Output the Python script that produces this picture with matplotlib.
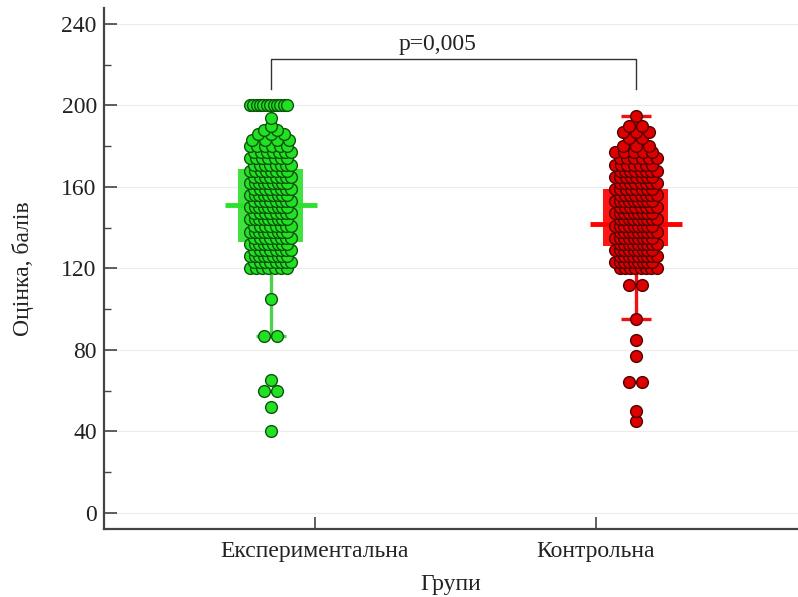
import numpy as np
import matplotlib.pyplot as plt
from matplotlib.ticker import MultipleLocator

# groups and where they sit on the x axis
groups = ["Експериментальна", "Контрольна"]
tick_pos = [1, 2]
group_pos = [0.843, 2.142]

# scores (value -> number of dots)
green_scores = [40, 52, 60, 65, 87, 105, 120, 123, 126, 129, 132, 135, 138, 141,
                144, 147, 150, 153, 156, 159, 162, 165, 168, 171, 174, 177, 180,
                183, 186, 188, 190, 194, 200]
green_counts = [1, 1, 2, 1, 2, 1, 7, 8, 9, 8, 9, 8, 9, 8,
                9, 8, 9, 8, 9, 8, 9, 8, 8, 8, 7, 7, 6,
                4, 3, 2, 1, 1, 12]

red_scores = [45, 50, 64, 77, 85, 95, 112, 120, 123, 126, 129, 132, 135, 138,
              141, 144, 147, 150, 153, 156, 159, 162, 165, 168, 171, 174, 177,
              180, 184, 187, 190, 195]
red_counts = [1, 1, 2, 1, 1, 1, 2, 8, 9, 9, 9, 9, 9, 9,
              9, 9, 9, 8, 9, 8, 8, 8, 8, 8, 7, 6, 5,
              3, 2, 3, 2, 1]

# box summary
box_q1 = [133, 131]
box_q3 = [169, 159]
box_mid = [151, 142]
whisk_lo = [87, 95]
whisk_hi = [200, 195]

p_text = "p=0,005"

green_face, green_edge = "#22e022", "#0c540c"
red_face, red_edge = "#dd0000", "#520000"
box_colors = ["#3fe23f", "#ff1414"]
line_colors = ["#2ee02e", "#ff0000"]
whisk_colors = ["#4ed04e", "#f01010"]

plt.rcParams['font.family'] = ['Liberation Serif', 'DejaVu Serif']

fig = plt.figure(figsize=(7.98, 5.97), dpi=100)
ax = fig.add_axes([0.130, 0.114, 0.870, 0.873])


def row_offsets(n, half=0.066, step=0.046):
    if n == 1:
        return np.array([0.0])
    w = min(half, (n - 1) * step / 2)
    return np.linspace(-w, w, n)


for i, (scores, counts, face, edge) in enumerate([
        (green_scores, green_counts, green_face, green_edge),
        (red_scores, red_counts, red_face, red_edge)]):
    xc = group_pos[i]
    # box
    ax.bar(xc, box_q3[i] - box_q1[i], bottom=box_q1[i], width=0.231,
           color=box_colors[i], zorder=2)
    # whiskers and caps
    ax.vlines(xc, whisk_lo[i], whisk_hi[i], color=whisk_colors[i], lw=2.4, zorder=1.5)
    ax.hlines([whisk_lo[i], whisk_hi[i]], xc - 0.053, xc + 0.053,
              color=whisk_colors[i], lw=2.4, zorder=2)
    # median line
    ax.hlines(box_mid[i], xc - 0.164, xc + 0.164, color=line_colors[i], lw=3.5, zorder=2)
    # dots, row by row, left to right; dense rows staggered a little
    for k, (s, n) in enumerate(zip(scores, counts)):
        offs = row_offsets(n)
        if n > 4:
            offs = offs + (0.008 if k % 2 else -0.008)
        ax.scatter(xc + offs, [s] * n, s=72, c=face, edgecolors=edge,
                   linewidths=1.0, zorder=3)

# significance bracket
x1, x2 = group_pos
ax.plot([x1, x1, x2, x2], [208, 223, 223, 208], color="#333333", lw=1, zorder=4)
ax.text(1.435, 230, p_text, ha="center", va="center", fontsize=17, color="#222222")

ax.set_xlim(0.249, 2.719)
ax.set_ylim(-8, 248)
ax.set_xticks(tick_pos)
ax.set_xticklabels(groups)
ax.yaxis.set_major_locator(MultipleLocator(40))
ax.yaxis.set_minor_locator(MultipleLocator(20))
ax.grid(axis="y", which="major", color="#ececec", lw=0.8, zorder=0)
ax.set_axisbelow(True)

for side in ["top", "right"]:
    ax.spines[side].set_visible(False)
for side in ["left", "bottom"]:
    ax.spines[side].set_color("#444444")
    ax.spines[side].set_linewidth(1.6)

ax.tick_params(axis="both", which="major", direction="in", length=9, width=1.2,
               color="#444444", labelsize=17, labelcolor="#222222")
ax.tick_params(axis="y", which="major", pad=5)
ax.tick_params(axis="y", which="minor", direction="in", length=5, width=1.0,
               color="#444444")
ax.tick_params(axis="x", which="major", length=9, pad=9)

ax.set_xlabel("Групи", fontsize=17, color="#222222", labelpad=8)
ax.set_ylabel("Оцінка, балів", fontsize=17, color="#222222", labelpad=20)

fig.savefig("out.png", dpi=100)
